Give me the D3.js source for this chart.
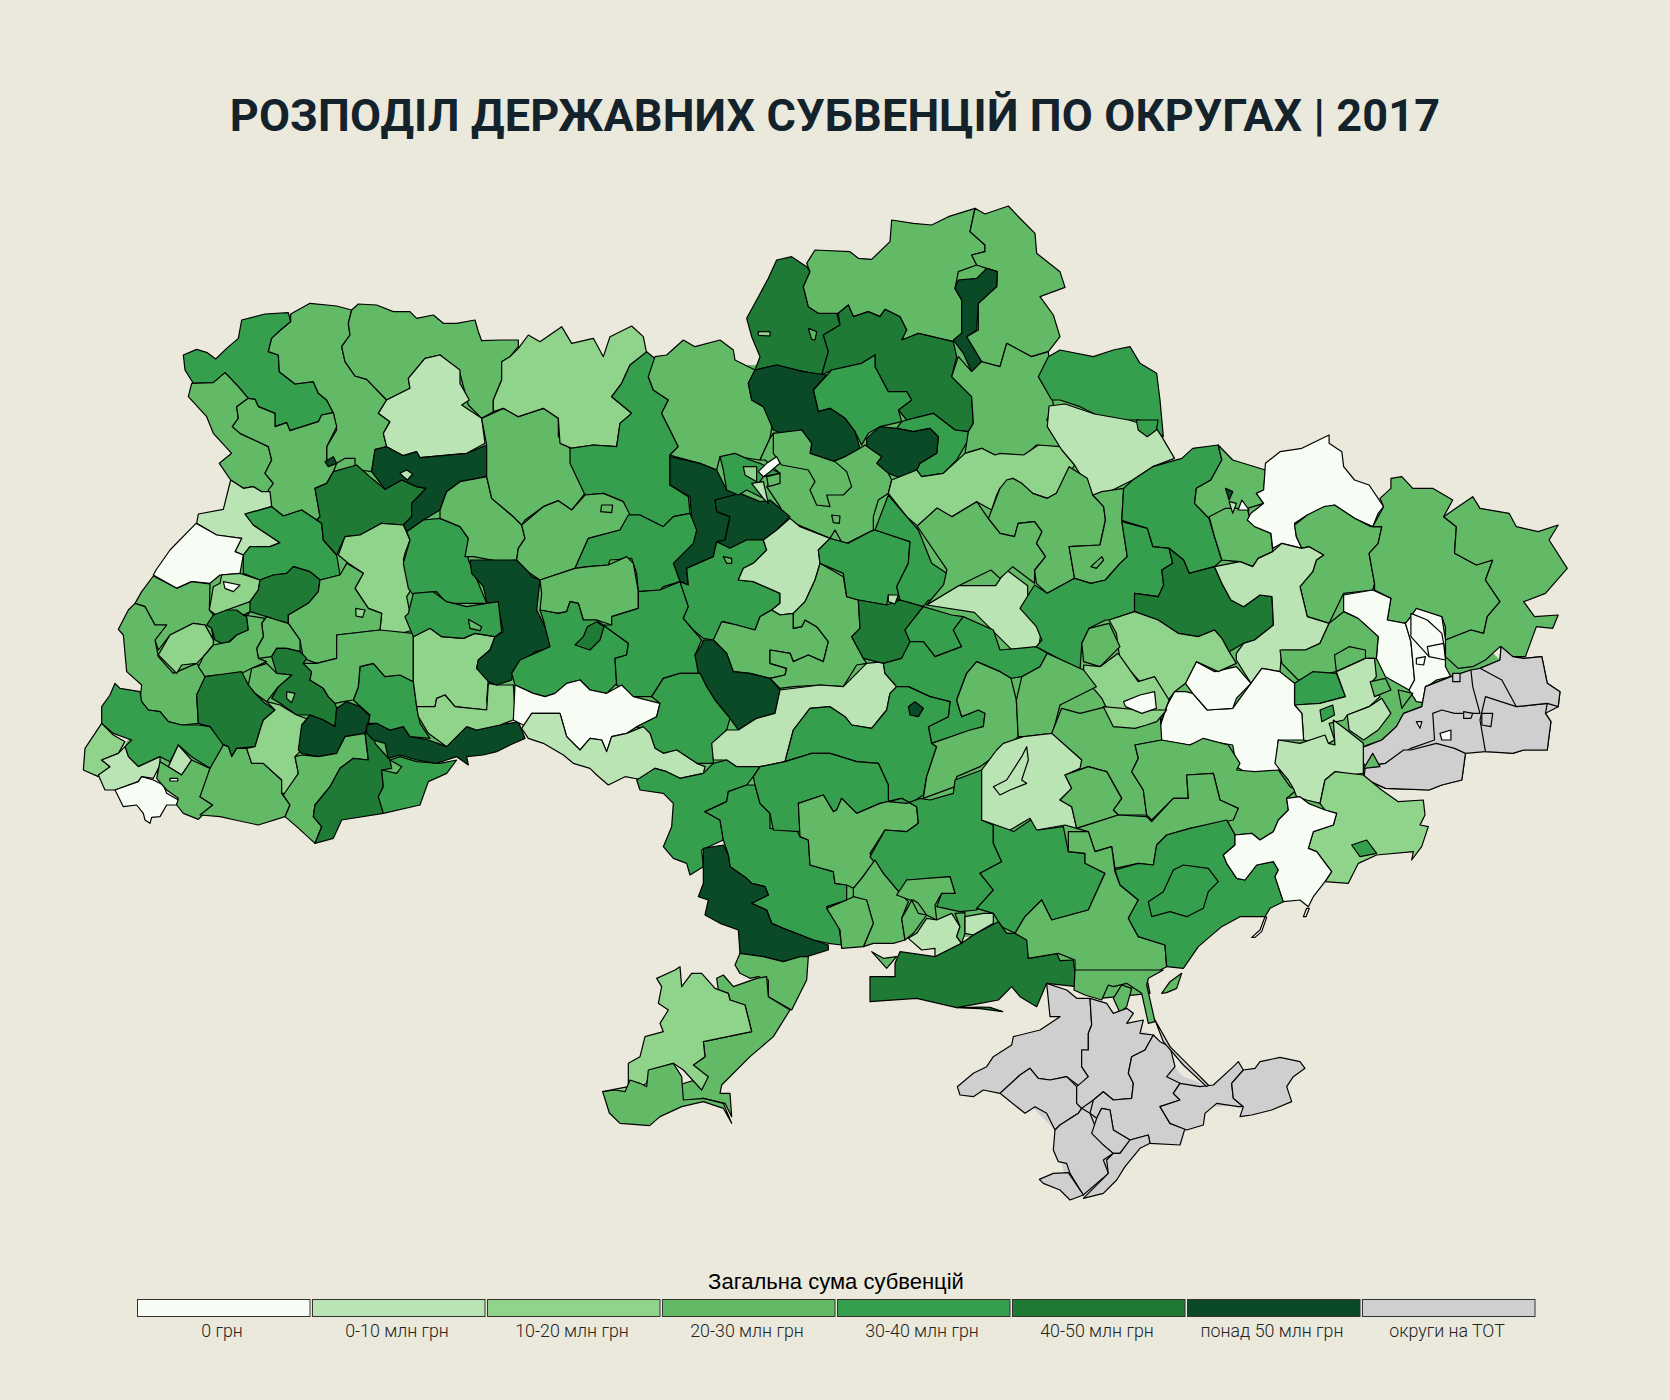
<!DOCTYPE html>
<html>
<head>
<meta charset="utf-8">
<script src="https://cdn.jsdelivr.net/npm/d3@7"></script>
<style>
html, body { margin: 0; padding: 0; background: #ebe9dc; }
</style>
</head>
<body>
<div id="chart"></div>
<script>
// Legend classes
var legendLabels = ["0 грн", "0-10 млн грн", "10-20 млн грн", "20-30 млн грн", "30-40 млн грн", "40-50 млн грн", "понад 50 млн грн", "округи на ТОТ"];
var legendColors = ["#f7fcf5", "#bae4b3", "#90d38a", "#62b966", "#369f4d", "#1e7a35", "#0a4a27", "#cfcfcf"];

// District outlines were traced by eye from crops of the picture, so each block
// has its own origin and zoom. Every row: class index, then "x,y x,y ..."
var west = [
[4,"340,195 380,178 412,188 437,207 470,175 505,145 515,90 585,72 655,68 662,95 632,120 605,145 595,185 625,195 628,245 675,282 730,275 745,310 770,330 790,368 755,375 745,395 660,422 650,398 615,410 615,370 565,350 555,328 535,325 505,290 465,248 430,278 370,280 345,240"],
[3,"662,72 720,40 800,48 845,60 835,100 840,135 815,170 825,215 855,258 890,268 950,330 925,370 960,395 940,430 950,470 915,480 905,545 870,540 855,525 855,505 825,505 800,520 770,510 770,470 800,420 790,368 770,330 745,310 730,275 675,282 628,245 625,195 595,185 605,145 632,120 662,95"],
[3,"845,60 865,42 920,45 970,65 1020,65 1040,85 1090,75 1120,100 1160,100 1215,90 1225,125 1235,152 1290,150 1345,150 1345,170 1320,200 1295,215 1295,270 1270,330 1270,365 1235,385 1195,345 1170,250 1110,195 1065,205 1015,265 1020,295 950,330 890,268 855,258 825,215 815,170 840,135 835,100"],
[1,"1110,195 1170,240 1170,280 1198,330 1175,345 1235,385 1245,460 1190,490 1050,503 1040,485 1000,497 950,470 940,430 960,395 925,370 950,330 1020,295 1015,265 1065,205"],
[3,"365,280 430,278 465,248 505,290 535,325 500,350 505,385 487,410 510,430 595,470 605,510 585,550 610,580 600,605 575,605 550,590 520,595 482,570 448,520 485,490 430,430 410,380 355,320"],
[3,"535,325 555,328 565,350 615,370 615,410 650,398 660,422 745,395 755,375 790,368 800,410 770,470 770,510 800,520 790,545 770,580 735,595 750,680 740,690 695,660 640,678 605,650 595,600 610,580 585,550 605,510 595,470 510,430 487,410 505,385 500,350"],
[1,"482,570 520,595 550,590 575,605 600,605 605,650 525,672 550,705 630,758 600,770 540,770 520,795 495,785 515,745 440,735 380,700 385,672 460,658"],
[0,"378,700 440,735 515,745 495,785 520,795 510,850 450,855 420,880 365,875 320,895 250,855 258,840 300,780"],
[4,"525,672 605,650 640,678 695,660 740,690 755,700 760,750 800,795 810,855 750,870 720,845 670,830 650,850 610,855 570,870 520,850 520,795 540,770 600,770 630,758 550,705"],
[5,"735,595 770,580 790,545 860,525 905,565 945,598 995,570 1040,590 1068,595 1025,640 1025,680 1000,705 935,700 870,735 825,740 800,795 760,750 755,700 740,690 750,680"],
[6,"915,478 950,470 1000,497 1040,485 1050,503 1190,490 1250,465 1250,560 1170,575 1130,605 1110,660 1060,690 1010,725 1000,705 1025,680 1025,640 1068,595 1040,590 995,570 945,598 905,545"],
[2,"825,740 870,735 935,700 1000,705 1020,750 1005,790 1000,810 1030,890 1010,920 1030,1020 975,1035 930,1020 935,970 895,955 855,895 880,850 835,820 805,795"],
[4,"1010,725 1060,690 1110,685 1170,710 1195,745 1195,810 1215,855 1250,940 1130,940 1100,905 1030,915 1015,895 1000,820 1020,750"],
[3,"1130,605 1170,575 1250,560 1265,625 1330,680 1355,705 1365,745 1345,775 1340,810 1290,815 1210,800 1185,800 1195,745 1170,710 1110,685 1110,660"],
[3,"1235,385 1300,355 1345,380 1420,355 1465,385 1465,440 1500,475 1535,535 1545,610 1505,660 1465,632 1420,650 1365,690 1355,705 1330,680 1265,625 1250,560 1250,465"]
];

var carpath = [
[3,"250,48 320,85 365,65 420,72 418,150 430,165 425,205 430,240 405,195 370,190 300,225 265,270 255,240 290,195 255,195 225,140 195,130 215,95"],
[3,"195,130 225,140 255,195 290,195 255,240 265,290 310,340 380,310 410,350 380,405 385,490 335,495 295,485 270,455 235,450 210,420 215,375 170,335 160,225 145,208 175,150"],
[2,"300,225 370,190 405,195 430,240 430,255 400,290 380,310 335,315 320,340 300,320 265,285 285,250"],
[2,"430,80 450,70 455,45 510,40 570,60 565,90 540,125 470,150 445,170 418,150"],
[5,"430,165 470,150 500,150 520,165 540,155 530,170 535,210 500,225 465,255 435,240 425,205 410,195"],
[5,"570,60 610,45 650,40 670,20 720,35 750,60 745,95 715,130 655,165 655,190 620,180 590,170 540,155 540,125 565,90"],
[3,"750,60 810,45 830,10 880,40 855,85 895,145 935,160 930,210 800,225 800,295 740,310 700,295 690,240 655,190 655,165 715,130 745,95"],
[3,"590,170 620,180 655,190 690,240 690,275 650,265 620,265 605,290 565,295 560,265 580,230 575,190"],
[3,"520,165 585,175 575,190 580,230 560,265 565,295 590,305 545,325 515,340 440,345 405,350 385,320 400,290 430,255 480,245 500,225 535,210 530,170"],
[5,"605,290 620,265 650,265 690,275 710,295 700,310 725,335 720,360 760,385 775,410 795,430 800,445 795,500 760,480 720,465 680,465 630,430 605,415 625,380 665,345 620,340"],
[3,"545,325 590,310 620,340 665,345 625,380 590,425 555,400 535,375"],
[5,"405,350 440,345 515,335 535,375 555,400 585,430 615,450 580,480 570,510 555,560 500,565 485,590 475,560 450,550 420,500 385,490 380,405"],
[4,"135,370 150,385 210,395 215,425 235,450 270,455 295,485 335,495 385,495 420,500 460,555 445,620 420,625 365,590 325,555 300,605 270,590 205,620 175,590 165,560 185,540 130,520 95,490 95,440 120,405"],
[2,"95,490 130,525 165,545 145,580 95,600 120,620 85,650 40,630 45,565"],
[1,"165,560 175,590 205,620 270,590 270,615 250,655 215,650 205,665 135,690 105,690 85,645 120,620 95,600 145,580"],
[0,"135,690 205,665 215,650 250,660 280,675 290,700 325,720 320,735 290,735 270,770 245,772 240,790 225,780 220,760 200,735 160,740 140,700"],
[1,"325,555 365,600 335,645 295,620"],
[3,"270,605 295,620 335,645 365,600 420,625 400,690 390,710 428,735 385,778 340,760 320,735 325,715 290,690 260,655"],
[3,"460,555 475,560 485,590 500,565 530,565 545,610 580,610 635,660 635,700 660,735 645,770 565,795 495,780 450,770 390,765 428,735 390,710 420,625"],
[2,"590,425 630,435 680,465 720,480 695,500 690,575 675,590 685,640 660,700 635,700 635,660 580,610 545,610 530,565 555,560 570,510 580,480 615,450"],
[6,"800,445 830,425 870,440 900,470 885,520 825,530 800,580 745,590 695,580 685,570 695,495 720,465 760,480 795,500"],
[3,"695,585 745,590 800,580 825,530 885,520 895,600 850,595 810,625 780,680 735,735 730,770 755,800 735,850 680,800 645,770 660,735 640,705 685,640 675,590"],
[5,"885,515 915,510 915,550 960,600 965,625 935,630 940,680 925,710 940,760 815,780 790,835 735,850 755,800 730,770 735,735 780,680 810,625 850,595 895,600"],
[4,"960,600 990,590 1040,605 1110,610 1160,600 1130,640 1075,665 1050,735 940,760 925,710 940,680 935,630 980,640 995,620"],
[6,"890,495 920,490 960,510 1000,500 1020,530 1075,540 1130,560 1190,500 1220,510 1290,495 1345,485 1365,535 1320,555 1280,575 1240,585 1190,590 1195,615 1160,590 1130,600 1100,610 1040,600 990,585 955,595 945,550 910,540 890,520"],
[4,"870,320 910,310 945,350 990,345 1030,365 1040,440 1050,490 1080,535 1020,530 1000,500 960,510 920,490 895,490 900,465 850,420 865,380"],
[3,"800,225 930,210 1030,220 1030,365 990,345 945,350 910,310 870,320 865,380 850,420 820,425 795,430 775,410 760,385 720,360 725,335 700,310 740,310 800,295"],
[2,"1030,230 1080,205 1115,230 1180,235 1215,220 1275,230 1260,270 1225,300 1220,325 1255,360 1250,420 1255,450 1200,445 1155,440 1125,405 1100,415 1095,440 1040,440 1030,365"],
[2,"1040,440 1095,440 1100,415 1125,405 1155,440 1250,450 1255,370 1280,375 1330,375 1335,450 1330,480 1290,495 1220,510 1190,500 1130,560 1075,520 1045,470"],
[6,"1200,0 1360,0 1385,50 1410,60 1400,150 1430,210 1445,265 1395,275 1330,330 1325,360 1280,375 1255,365 1220,325 1225,300 1260,270 1275,230 1300,215 1285,140 1250,125 1240,80 1205,40"],
[4,"1015,160 1030,100 1090,95 1130,125 1190,140 1250,130 1285,125 1295,215 1275,230 1215,220 1180,235 1115,230 1080,205 1030,230 1005,170"]
];

var north = [
[2,"-150,470 -125,445 -95,405 -60,425 5,380 35,430 100,415 130,470 150,410 215,378 250,410 260,460 210,495 185,550 155,590 215,640 180,670 170,740 100,735 35,745 0,730 -5,655 -50,625 -125,650 -170,625 -200,635 -200,600 -175,540 -175,485"],
[4,"260,455 290,480 265,530 280,570 325,600 305,640 335,700 355,740 330,765 330,855 385,890 390,940 340,950 310,980 240,945 205,945 190,905 130,880 75,885 30,790 30,745 100,735 170,740 180,670 215,640 155,590 185,550 210,495"],
[3,"285,470 320,465 370,420 405,440 480,420 520,450 525,480 585,510 565,550 575,600 610,620 640,655 630,715 600,780 530,770 480,770 470,810 420,790 345,770 330,765 355,740 335,700 305,640 325,600 280,570 265,530"],
[5,"650,180 695,170 740,200 750,215 730,260 745,320 775,340 830,340 840,375 790,405 805,455 785,525 730,515 650,495 585,510 600,470 575,410 560,355 590,300 625,235"],
[3,"740,190 765,150 870,155 895,175 935,178 990,125 995,60 1060,70 1115,75 1165,50 1245,25 1230,95 1275,135 1275,155 1235,165 1250,195 1195,215 1190,240 1185,265 1205,300 1205,400 1180,425 1075,400 1040,425 1025,410 1040,390 1020,350 975,328 960,350 925,335 880,350 865,315 835,340 775,340 745,320 730,260 750,215"],
[3,"1245,25 1275,42 1345,18 1385,60 1425,100 1430,160 1500,215 1515,262 1440,290 1480,345 1500,410 1465,455 1415,470 1340,430 1320,500 1270,490 1235,450 1220,410 1255,390 1255,310 1310,260 1312,215 1280,205 1250,195 1235,165 1275,155 1275,135 1230,95"],
[5,"790,405 840,375 835,340 865,315 880,350 925,335 960,350 975,328 1020,350 1040,390 1025,420 1075,400 1180,425 1190,470 1175,530 1235,590 1240,670 1225,695 1185,690 1120,640 1040,660 1015,630 1055,600 1040,575 985,575 945,500 945,465 905,490 815,510 785,525 805,455"],
[6,"1250,235 1280,205 1312,215 1310,260 1255,310 1250,390 1220,410 1265,485 1235,515 1210,460 1180,420 1205,400 1205,300 1185,265 1195,240"],
[4,"760,570 815,510 905,490 945,465 945,500 985,575 1040,575 1055,600 1015,630 1025,665 960,680 925,700 905,735 885,695 855,655 810,625 775,635"],
[6,"585,510 650,495 730,515 800,525 760,570 775,635 810,625 855,655 885,695 900,745 855,770 820,785 750,760 755,730 725,690 665,700 640,690 610,620 575,600 565,550"],
[4,"1025,665 1040,660 1120,640 1185,690 1225,695 1225,720 1190,780 1150,820 1085,830 1070,810 1080,790 1130,760 1135,710 1110,685 1060,695 1010,685"],
[6,"920,715 960,680 1010,685 1060,695 1110,685 1135,710 1130,760 1080,790 1070,810 1025,835 985,820 950,790 965,770 920,740"],
[3,"1195,470 1235,515 1265,485 1320,500 1340,430 1415,470 1465,455 1480,620 1460,660 1500,700 1500,745 1430,735 1390,770 1305,765 1265,745 1215,760 1225,695 1240,670 1235,590 1175,530"],
[4,"1435,530 1465,470 1500,450 1600,470 1660,450 1710,440 1740,490 1790,520 1800,600 1810,710 1740,660 1640,660 1560,620 1500,600 1475,600"],
[3,"640,700 665,700 725,690 755,730 750,760 820,785 855,770 900,745 915,735 965,770 950,790 985,820 995,840 985,880 955,900 940,950 940,990 920,1000 850,1035 825,990 810,1015 680,960 660,920 620,860 660,820 615,780 600,780 630,715"],
[3,"825,785 860,815 875,860 850,885 800,885 810,920 770,915 750,870 765,845 745,810 665,795 640,760 640,700 725,690 755,730 750,760"],
[2,"995,840 1070,810 1085,830 1150,820 1215,760 1265,745 1305,765 1320,760 1391,765 1435,735 1500,740 1544,795 1489,880 1462,895 1418,880 1385,850 1358,835 1320,865 1310,885 1295,930 1250,905 1175,950 1130,925 1075,980 1040,950 985,880"],
[6,"330,770 420,790 470,810 500,870 535,885 465,900 470,935 510,950 495,1020 470,1025 460,1070 380,1105 385,1155 360,1145 340,1090 400,1020 390,890 330,855"],
[6,"465,900 540,880 600,905 630,900 690,950 650,990 610,1020 560,1020 510,1045 470,1025 495,1020 510,950 470,935"],
[4,"480,770 525,760 570,780 600,790 660,820 610,830 590,860 610,895 560,870 535,885 500,870 490,810"]
];

var centre = [
[3,"65,-15 130,-70 175,-88 215,-60 255,-105 310,-110 370,-85 390,-45 360,0 265,25 225,115 120,150 90,130 50,90 55,55 75,25"],
[4,"590,0 580,40 520,100 540,155 490,170 480,180 415,185 410,130 395,85 330,90 325,105 265,110 225,115 265,25 360,0 385,-45 420,-45 490,-10 520,-40 570,-50"],
[3,"120,150 225,115 265,110 325,105 380,80 400,100 415,185 415,235 335,260 335,285 290,270 250,270 235,220 210,215 200,245 175,250 120,240 125,190"],
[4,"120,240 175,250 200,245 210,215 235,220 250,270 290,270 310,285 330,300 385,340 380,375 345,385 350,460 320,490 270,480 240,450 200,460 165,490 135,500 100,490 45,465 35,430 60,390 150,350 130,270"],
[4,"415,185 480,180 540,155 565,230 550,265 605,330 585,375 600,430 540,430 490,445 455,500 400,500 350,465 345,385 380,375 385,340 330,300 310,285 335,285 335,260 415,235"],
[4,"650,35 690,55 740,30 790,30 800,60 760,100 730,115 715,150 760,155 840,190 840,220 815,240 780,260 765,300 710,285 670,275 640,330 610,325 580,300 550,265 565,230 540,155 565,165 560,115 640,80"],
[1,"830,0 870,-35 900,-10 990,25 955,60 960,100 945,150 915,215 880,250 840,255 815,240 840,220 840,190 760,155 715,150 730,115 760,100 800,60 790,30"],
[3,"665,275 710,285 765,300 780,260 815,240 840,255 880,250 880,295 905,290 915,270 950,290 985,335 970,395 925,375 880,395 870,370 810,360 810,400 860,415 855,435 810,445 750,430 700,425 680,370 640,330"],
[3,"880,250 915,215 945,150 960,100 1030,140 1040,200 1075,210 1080,295 1055,320 1090,385 1100,400 1070,405 1030,470 960,465 880,470 840,475 810,445 855,435 860,415 810,400 810,360 870,370 880,395 925,375 970,395 985,335 950,290 915,270 905,290 880,295"],
[6,"610,330 640,330 680,370 700,425 750,430 810,445 840,480 825,550 770,565 715,600 690,565 645,510 620,470 595,430 585,375 605,345"],
[0,"45,465 100,490 135,500 165,490 200,460 240,450 270,480 320,490 365,465 400,500 480,520 470,560 410,590 380,610 335,620 320,665 305,630 270,625 240,660 200,620 180,550 95,550 80,590 40,570"],
[4,"455,500 490,445 540,430 600,430 620,470 645,510 690,565 680,600 640,640 640,700 590,700 530,660 490,670 465,655 450,610 410,590 470,560 480,520"],
[1,"95,550 180,550 200,620 240,660 270,625 305,630 320,665 335,620 380,610 430,590 450,610 465,655 490,670 530,660 590,700 615,710 610,730 540,745 500,725 465,715 430,750 375,740 325,765 290,735 270,715 220,700 190,675 130,640 85,625 65,595"],
[1,"840,480 960,465 1030,470 1100,400 1150,395 1155,430 1190,470 1170,490 1160,540 1115,595 1055,585 1035,560 990,530 930,535 880,600 855,695 780,710 710,710 680,690 640,690 635,640 680,600 715,600 770,565 825,550"],
[4,"955,60 960,100 1030,130 1040,200 1075,210 1160,225 1165,195 1200,210 1190,170 1225,100 1230,35 1125,0 1110,5 1045,40 990,25"],
[4,"1165,-105 1220,-40 1255,0 1295,100 1340,130 1330,190 1345,220 1285,210 1270,230 1200,210 1190,170 1225,100 1230,35 1125,0"],
[5,"1075,210 1160,225 1200,210 1270,230 1215,300 1230,335 1225,360 1205,385 1150,400 1090,385 1055,320 1080,295"],
[1,"1280,225 1375,167 1487,167 1519,119 1583,167 1583,247 1625,295 1615,359 1535,359 1423,247"],
[4,"1270,230 1355,255 1390,260 1360,300 1385,350 1305,380 1270,335 1230,335 1215,300"],
[4,"1150,400 1205,385 1230,335 1270,335 1305,380 1385,350 1360,300 1390,260 1480,300 1500,360 1609,350 1642,370 1620,410 1565,440 1533,445 1500,425 1430,395 1400,430 1370,510 1385,560 1435,540 1455,550 1450,590 1295,640 1285,590 1345,560 1350,515 1290,500 1225,470 1190,470 1155,430"],
[4,"1190,470 1225,470 1290,500 1350,515 1345,560 1285,590 1295,640 1310,650 1280,740 1270,795 1225,825 1165,815 1165,765 1135,700 1070,695 990,670 935,670 855,695 880,600 930,535 990,530 1035,560 1055,585 1115,595 1160,540 1170,490"],
[3,"1430,395 1500,425 1533,445 1549,510 1555,620 1510,660 1440,710 1370,740 1365,770 1270,805 1280,740 1310,650 1295,640 1410,600 1450,590 1455,550 1435,540 1385,560 1370,510 1400,430"]
];

var south = [
[4,"-10,30 45,-5 80,5 120,25 190,10 220,-20 260,-30 290,-10 360,-10 340,20 320,45 265,65 260,95 195,125 240,150 250,210 185,240 190,290 150,315 140,280 100,265 70,230 95,170 100,100 70,70 0,60"],
[4,"195,125 260,95 265,65 320,45 345,45 360,100 390,130 390,175 470,180 480,200 505,210 510,285 580,305 585,340 620,345 620,390 560,410 595,460 605,525 565,520 520,510 430,475 395,460 380,420 335,400 385,375 375,350 335,340 320,325 270,290 265,255 250,210 240,150"],
[6,"190,235 250,225 265,255 270,290 320,325 335,340 375,350 385,375 335,400 380,420 395,460 430,475 520,510 565,525 565,540 500,560 470,565 430,575 370,560 300,550 295,480 240,460 195,435 205,390 175,380 190,340 190,290"],
[4,"340,20 360,-10 435,-25 515,-50 570,-50 650,-25 715,-20 745,45 745,95 720,100 650,130 605,85 590,120 580,125 550,75 475,100 480,185 400,180 390,130 360,100 345,45"],
[3,"475,100 550,75 580,125 590,120 605,85 650,130 720,100 785,85 830,110 835,160 800,185 735,180 690,250 705,270 665,325 640,355 620,345 585,340 580,305 510,285 505,210 480,200"],
[4,"745,95 800,100 840,85 870,90 940,70 945,30 1025,0 1025,150 1060,165 1060,220 1085,275 1020,310 1060,360 1010,420 960,425 890,410 905,370 945,370 930,320 860,330 800,330 780,370 730,310 690,260 735,180 800,185 835,160 830,110 785,85"],
[4,"1025,150 1080,160 1120,185 1180,145 1195,180 1270,170 1285,245 1335,250 1335,280 1395,310 1345,420 1235,450 1205,390 1155,440 1125,490 1085,470 1060,430 1010,415 1060,360 1020,310 1085,275 1060,220 1060,165"],
[3,"705,270 730,310 780,370 805,395 785,445 795,510 760,520 700,520 670,530 700,460 680,395 640,385 640,355 665,325"],
[3,"680,390 700,460 670,530 605,535 600,480 560,415 620,390 640,380"],
[3,"800,330 860,325 930,320 945,370 905,370 885,405 890,450 860,435 835,400 820,390 810,390 770,375"],
[3,"815,390 835,430 860,435 820,490 795,510 785,445 805,410"],
[1,"860,445 890,450 935,430 960,470 950,500 965,520 885,560 885,535 845,540 805,505 830,490"],
[3,"945,430 975,428 975,490 965,520 950,500 960,470"],
[1,"975,440 1030,430 1060,430 1060,460 1000,495 975,490"],
[5,"780,545 885,560 965,520 1000,495 1075,455 1100,490 1125,490 1165,510 1165,565 1250,550 1260,572 1300,570 1310,650 1220,640 1190,710 1140,680 1115,650 1075,690 1020,700 950,713 830,685 690,695 690,620 765,620 765,580"],
[3,"695,545 730,565 770,560 740,595"],
[3,"300,550 370,560 430,575 480,560 505,560 500,630 455,720 385,680 385,630 355,620 330,625 300,610 285,585"],
[3,"230,625 250,615 280,650 350,625 380,620 385,680 450,720 400,800 330,860 245,945 240,970 270,970 275,1040 255,1000 190,985 130,995 115,945 200,920 160,885 195,860 190,815 335,785 315,705 270,690 265,670 235,660"],
[2,"50,625 105,600 120,590 125,650 155,610 185,610 225,655 265,670 270,690 315,705 335,785 190,815 195,860 160,885 205,920 185,960 130,900 100,880 30,900 20,940 -30,970 -112,965 -35,950 -35,880 0,860 15,800 70,785 60,760 85,720 55,700 65,650"],
[3,"25,900 100,880 125,920 130,990 190,985 250,1000 275,1060 250,1015 190,995 125,1010 60,1040 29,1067 -60,1060 -92,1029 -112,965 -75,960 -45,965 -30,930 0,940 20,950"],
[5,"950,713 1020,716 1088,725 1050,712 1020,711"]
];

var east = [
[1,"135,-42 179,-48 260,-18 354,0 430,25 445,50 480,115 420,140 365,180 300,215 255,225 205,135 170,90 130,20"],
[4,"375,0 435,0 430,30 405,50 380,30"],
[3,"-32,296 0,205 18,180 35,175 60,190 90,220 130,235 155,220 190,140 240,175 255,225 285,260 290,300 275,375 190,380 205,475 130,520 100,490 95,450 125,410 100,370 115,335 95,305 50,310 40,350 0,340"],
[3,"-228,318 -173,264 -132,290 -64,245 -32,296 0,340 40,350 50,310 95,305 115,335 100,370 125,410 95,450 95,490 35,440 0,475 -25,450 -114,497 -202,555 -155,494 -146,449"],
[3,"190,380 275,375 290,300 285,260 255,225 280,215 340,205 335,300 350,410 330,430 290,480 250,490 205,475"],
[4,"340,205 365,180 420,140 500,115 530,85 600,75 610,120 580,180 540,205 535,250 575,295 590,350 610,420 590,440 520,460 505,420 465,385 420,380 405,325 345,305 335,300"],
[4,"335,305 405,325 420,380 465,385 475,430 445,450 450,495 435,530 370,520 370,575 300,600 290,600 245,625 225,670 220,750 100,680 115,660 100,620 55,565 95,495 130,520 205,475 250,490 290,480 330,430 350,410"],
[5,"465,385 505,420 520,460 590,440 610,490 635,540 670,560 715,525 748,530 752,615 700,660 670,670 630,695 610,655 590,630 545,650 490,640 435,600 370,575 370,520 435,530 450,495 445,450 475,430"],
[3,"600,75 640,120 730,150 725,210 705,220 725,250 680,265 690,310 700,325 745,340 750,395 710,415 695,440 660,425 610,420 590,350 575,295 535,250 540,205 580,180 610,120"],
[3,"575,290 620,265 680,265 690,310 745,340 750,395 710,415 695,440 660,425 610,420 590,350"],
[0,"730,130 770,95 830,85 905,45 905,70 940,95 945,140 975,180 1015,195 1055,260 1040,280 1025,320 975,295 920,255 890,270 845,285 810,310 815,350 830,385 775,370 750,385 745,340 700,320 680,300 690,280 725,250 705,220 725,210"],
[3,"810,315 845,285 890,260 920,255 975,295 1020,320 1050,320 1040,370 1015,400 1030,490 1025,510 945,520 905,610 845,590 835,545 825,500 860,455 870,420 890,405 850,380 830,385 815,350"],
[1,"590,440 660,425 695,440 710,415 750,395 775,370 830,385 850,380 890,405 870,420 860,455 825,500 835,545 845,590 905,610 880,670 840,690 775,690 770,755 720,745 690,790 650,720 650,700 670,670 700,660 752,615 748,530 715,525 670,560 635,540 610,490"],
[3,"1045,235 1075,205 1075,175 1105,170 1135,205 1190,205 1245,240 1220,290 1255,320 1250,400 1310,435 1355,420 1335,480 1375,545 1340,590 1330,640 1295,630 1225,660 1225,620 1215,590 1130,590 1115,610 1065,600 1075,535 1030,510 1030,490 1015,400 1040,370 1050,320 1025,320 1055,260"],
[3,"1220,290 1300,230 1320,265 1400,280 1420,320 1480,335 1535,315 1510,360 1560,445 1500,520 1440,545 1470,590 1535,585 1520,625 1475,620 1445,710 1410,710 1375,680 1335,720 1300,740 1260,745 1225,710 1225,660 1295,630 1330,640 1340,590 1375,545 1335,480 1355,420 1310,435 1250,400 1255,320"],
[0,"945,525 1025,510 1075,535 1065,600 1115,610 1130,665 1140,780 1125,810 1060,770 1035,715 1040,650 1000,610 975,590 945,575"],
[0,"1115,610 1130,590 1145,565 1215,590 1225,660 1225,740 1240,770 1200,780 1175,800 1180,850 1145,845 1125,810 1140,780 1130,665"],
[3,"770,690 840,690 880,670 905,610 945,575 985,595 1040,650 1035,715 1005,715 925,755 820,780 775,730"],
[3,"920,705 960,680 1005,690 1005,715 925,755"],
[4,"810,790 860,755 925,760 950,830 880,850 810,855"],
[1,"810,855 880,850 950,830 925,755 1005,715 1030,715 1035,770 1020,790 1045,830 1015,860 955,885 945,900 905,910 920,960 895,975 835,960 830,880"],
[1,"955,885 1015,860 1050,835 1075,880 1040,930 1000,960 960,930"],
[0,"440,920 460,855 480,815 510,815 530,820 570,870 640,865 690,790 720,745 770,755 810,790 810,855 830,880 835,960 765,960 760,1020 770,1055 680,1060 650,1040 640,975 560,960 520,975 440,960"],
[0,"510,790 540,725 590,755 650,740 690,790 650,835 640,865 570,870 530,820"],
[2,"300,600 370,575 435,600 490,640 545,650 590,630 610,655 630,695 650,730 600,755 540,725 510,790 480,815 460,845 425,775 385,785 330,720 320,640"],
[3,"245,625 300,610 330,680 275,740 230,725 225,670"],
[2,"230,735 275,740 325,700 380,785 425,770 465,840 440,910 400,890 355,910 315,915 280,835 230,770"],
[3,"45,840 60,770 110,740 130,700 230,750 265,800 165,855 145,940 70,950 50,950"],
[7,"1180,795 1240,770 1295,750 1320,745 1375,720 1378,680 1410,710 1440,715 1490,710 1505,790 1540,815 1535,860 1500,880 1515,905 1505,990 1440,990 1410,1000 1370,995 1335,995 1280,1000 1270,1080 1215,1095 1180,1110 1060,1105 1000,1075 1000,1045 1050,1040 1000,1000 980,990 1010,975 1050,960 1090,920 1110,880 1160,860 1170,800"],
[7,"1335,830 1420,860 1505,850 1500,880 1515,905 1505,990 1440,990 1410,1000 1335,995 1320,900"],
[7,"1320,745 1375,720 1378,680 1410,710 1440,715 1490,710 1505,790 1540,815 1535,860 1505,850 1420,860 1380,780"],
[7,"1110,880 1160,860 1170,800 1240,770 1295,750 1300,800 1320,880 1250,880 1215,870 1190,880 1195,960 1130,985 1060,1030 1005,1040 980,990 1050,960 1090,920"],
[7,"1060,1105 1000,1075 1005,1040 1060,1030 1110,990 1130,990 1200,970 1250,985 1280,1000 1270,1080 1215,1095 1180,1110"]
];

var azov = [
[3,"155,100 185,25 240,40 320,20 345,80 435,75 480,30 485,120 405,135 415,175 395,215 430,270 440,345 355,345 340,330 365,295 320,215 265,200 195,225 245,180"],
[2,"310,20 420,30 500,30 470,65 440,75 405,85 340,80"],
[1,"-55,360 -55,210 -10,150 10,130 70,110 155,100 245,180 240,205 195,225 215,265 180,300 215,320 230,385 195,375 110,390 90,355 30,390"],
[1,"-20,260 20,240 65,170 80,140 85,180 65,240 80,250 30,270 0,285"],
[3,"195,225 265,200 300,210 320,215 365,295 340,330 355,345 230,385 215,320 180,300 215,265"],
[3,"405,135 485,120 570,135 610,115 685,135 720,190 710,210 765,215 835,210 870,260 890,270 860,295 865,330 835,360 820,395 780,420 755,400 705,405 680,360 715,325 660,300 640,220 560,225 565,295 520,295 455,360 440,345 430,270 395,215 415,175"],
[3,"230,385 355,345 440,350 455,365 520,295 565,295 560,225 640,220 660,300 715,325 700,360 600,380 570,385 500,405 470,435 460,495 415,490 345,505 335,440 285,455 265,395"],
[3,"205,395 265,395 285,455 335,440 345,515 360,555 415,600 385,655 415,710 495,735 500,800 440,830 450,880 300,895 225,860 225,780 175,760 85,775 80,720 45,700 75,650 125,600 155,660 265,630 315,520 255,490 255,460 205,455"],
[4,"345,510 415,490 460,495 470,435 500,405 570,385 680,360 705,405 705,435 670,465 680,490 710,535 735,540 770,495 820,485 835,510 825,530 850,605 810,625 795,650 720,650 665,680 595,740 550,805 500,800 495,735 415,710 385,655 415,600 360,555"],
[4,"445,605 490,575 520,510 550,495 625,505 655,545 625,575 610,625 560,650 510,635 455,650"],
[1,"835,120 900,130 975,105 985,130 1005,135 1000,60 1040,90 1090,130 1090,220 1050,225 1005,215 975,240 960,310 920,300 890,290 880,265 865,240 840,210 825,190"],
[2,"975,240 1005,215 1090,225 1145,270 1195,305 1270,300 1275,345 1260,375 1285,380 1265,440 1235,480 1240,455 1130,465 1075,490 1045,550 975,545 995,515 950,455 925,445 940,395 1000,375 1010,340 975,330 960,310"],
[4,"1055,435 1100,420 1130,460 1080,470"],
[0,"705,405 755,400 780,420 820,395 835,360 865,330 860,295 900,290 925,310 975,330 1010,340 1000,375 940,395 925,445 950,455 995,515 975,545 940,590 925,620 900,600 850,605 825,530 835,510 820,485 770,495 735,540 710,535 680,490 670,465 705,435"],
[0,"910,650 920,625 928,625 918,650"],
[0,"755,712 780,690 795,650 800,652 785,695 765,712"],
[3,"485,880 510,845 545,820 530,865 500,878"]
];

var crimea = [
[3,"375,0 640,0 595,25 590,45 615,155 595,160 575,70 530,40 490,50 475,45 455,90 405,75 372,60"],
[3,"490,85 515,45 545,55 530,110 510,128"],
[7,"290,40 350,60 380,85 420,85 425,165 415,190 415,240 395,240 395,290 415,320 390,350 350,320 300,330 265,325 240,295 210,315 150,370 100,360 70,380 30,375 22,350 70,310 110,290 130,260 185,225 190,200 270,180 330,140 300,140"],
[7,"150,370 210,315 240,295 265,325 300,330 350,320 380,350 380,400 395,415 385,430 330,465 315,480 290,430 255,410 225,430"],
[7,"420,85 470,100 490,130 530,115 550,130 530,160 580,150 570,190 610,195 585,240 545,260 535,310 550,340 545,385 490,390 460,365 430,390 395,415 380,400 380,350 415,320 395,290 395,240 415,240 415,190 425,165"],
[7,"610,195 630,215 660,230 675,290 650,320 690,340 670,370 690,390 630,410 660,460 705,475 690,525 600,520 595,495 540,510 490,480 480,420 455,415 440,445 420,430 430,390 460,365 490,390 545,385 550,340 535,310 545,260 585,240"],
[7,"690,340 750,350 790,345 850,290 865,275 880,300 845,340 850,385 880,410 865,410 800,400 765,430 760,465 710,480 660,460 630,410 690,390 670,370"],
[7,"880,300 915,295 930,275 990,262 1050,275 1065,295 1030,320 1010,350 1025,395 965,420 905,435 870,440 880,410 850,385 845,340"],
[7,"395,415 420,430 440,480 455,520 490,550 460,570 475,610 400,675 360,610 350,580 325,575 310,540 315,480 330,465 385,430"],
[7,"455,415 480,420 490,480 540,510 510,550 490,550 455,520 425,490 440,445"],
[7,"470,570 490,550 510,550 540,510 595,495 600,520 570,535 525,590 500,630 460,670 400,685 475,610"],
[7,"268,628 310,610 355,608 400,675 360,690 330,660 280,640"],
[7,"615,150 660,230 720,290 775,345 770,350 700,285 640,215"]
];

// Small enclaves that sit on top of the bigger districts
var enclaves = [
{ sheet: "north", rows: [
[2,"595,395 630,395 630,408 595,406"],
[3,"745,385 770,395 765,420 755,418"],
[3,"815,945 840,948 838,970 820,968"],
[1,"575,850 610,845 625,910 610,895"],
[0,"620,790 650,770 660,790 630,815 610,830 595,815"],
[2,"550,800 590,800 590,845 555,825"],
[3,"620,830 660,820 660,850 625,860"],
[3,"125,915 158,915 155,938 122,935"]
]},
{ sheet: "west", rows: [
[1,"990,550 1010,540 1028,552 1012,570"],
[6,"765,515 790,500 800,520 775,530"]
]},
{ sheet: "carpath", rows: [
[2,"857,145 885,150 878,172 858,168"],
[3,"1195,178 1235,200 1230,212 1200,205"],
[0,"300,655 323,655 323,663 300,663"],
[0,"460,65 510,75 490,95 465,85"],
[2,"650,395 675,400 665,428 650,415"]
]},
{ sheet: "centre", rows: [
[5,"262,290 290,275 312,290 300,330 270,360 225,345 250,320"],
[1,"1165,195 1195,195 1185,222 1165,215"],
[6,"1225,530 1245,515 1270,535 1255,560 1230,555"],
[3,"670,80 695,85 695,100 680,100"]
]},
{ sheet: "east", rows: [
[6,"620,205 640,215 630,240"],
[1,"630,245 650,250 640,280"],
[0,"665,240 685,270 655,270"],
[3,"250,440 280,410 285,420 265,445"],
[0,"340,845 385,825 425,815 430,865 390,880 345,860"],
[4,"880,870 915,855 920,885 885,905"],
[3,"1018,785 1060,775 1075,810 1030,830"],
[3,"1095,810 1135,820 1105,865"],
[3,"1025,1000 1045,1040 1000,1045"],
[0,"1210,940 1240,930 1240,960 1215,960"],
[0,"1130,580 1175,600 1215,640 1225,700 1180,710 1130,650"],
[0,"1145,715 1170,710 1165,735 1145,732"],
[0,"1175,680 1220,670 1225,720 1180,710"],
[7,"1275,875 1300,880 1295,895 1275,895"],
[7,"1325,880 1355,880 1350,920 1325,915"],
[7,"1245,760 1265,760 1265,785 1245,785"],
[0,"1145,905 1160,905 1155,925"]
]}
];

// Rough inner silhouettes drawn first, so slits between traced districts do not show the page colour
var underlay = [
[3,"250,380 280,345 351,330 500,365 639,365 756,365 830,300 900,290 1012,224 1020,300 1020,365 1145,373 1145,410 1156,460 1204,480 1257,500 1321,490 1374,510 1433,530 1500,560 1490,600 1490,650 1520,680 1500,730 1400,745 1340,760 1370,820 1370,830 1320,860 1260,870 1156,940 1065,964 980,937 831,937 809,943 740,900 720,830 690,780 540,715 470,725 420,770 340,810 230,810 175,790 125,745 150,700 150,640 235,530 260,500 260,430"],
[7,"990,1076 1065,1038 1097,1022 1150,1033 1182,1076 1225,1092 1268,1065 1294,1071 1283,1102 1204,1108 1145,1140 1108,1172 1087,1188 1065,1177 1054,1129 1022,1097"]
];

var width = 1670;
var height = 1400;

var color = d3.scaleOrdinal().domain(d3.range(legendLabels.length)).range(legendColors);

var svg = d3.select("#chart").append("svg")
	.attr("width", width)
	.attr("height", height)
	.style("display", "block")
	.style("background", "#ebe9dc");

// Title
svg.append("text")
	.attr("x", 835)
	.attr("y", 131)
	.attr("text-anchor", "middle")
	.attr("font-family", "Roboto")
	.attr("font-weight", 700)
	.attr("font-size", 45)
	.attr("letter-spacing", 0.14)
	.attr("fill", "#14232b")
	.text("РОЗПОДІЛ ДЕРЖАВНИХ СУБВЕНЦІЙ ПО ОКРУГАХ | 2017");

// Each traced block gets a scale pair from its own pixels to the page
var sheets = {
	page: { x0: 0, y0: 0, kx: 1, ky: 1, rows: underlay },
	west: { x0: 70, y0: 290, kx: 3, ky: 3, rows: west },
	carpath: { x0: 70, y0: 560, kx: 3, ky: 3, rows: carpath },
	north: { x0: 560, y0: 200, kx: 3, ky: 3, rows: north },
	centre: { x0: 500, y0: 530, kx: 3, ky: 3, rows: centre },
	south: { x0: 640, y0: 770, kx: 3, ky: 3, rows: south },
	east: { x0: 1000, y0: 420, kx: 2.75, ky: 3, rows: east },
	azov: { x0: 1000, y0: 700, kx: 3, ky: 3, rows: azov },
	crimea: { x0: 950, y0: 970, kx: 3, ky: 3, rows: crimea }
};

function toFeatures(rows, sheet) {
	var sx = d3.scaleLinear().domain([0, 300]).range([sheet.x0, sheet.x0 + 300 / sheet.kx]);
	var sy = d3.scaleLinear().domain([0, 300]).range([sheet.y0, sheet.y0 + 300 / sheet.ky]);
	return rows.map(function(row) {
		var ring = row[1].split(" ").map(function(p) {
			var xy = p.split(",");
			return [sx(+xy[0]), sy(+xy[1])];
		});
		ring.push(ring[0]);
		return { type: "Feature", properties: { cls: row[0] }, geometry: { type: "Polygon", coordinates: [ring] } };
	});
}

var features = [];
["west", "carpath", "north", "centre", "south", "east", "azov", "crimea"].forEach(function(name) {
	features = features.concat(toFeatures(sheets[name].rows, sheets[name]));
});
enclaves.forEach(function(group) {
	features = features.concat(toFeatures(group.rows, sheets[group.sheet]));
});

var path = d3.geoPath(d3.geoIdentity());

svg.append("g").selectAll("path")
	.data(toFeatures(underlay, sheets.page))
	.enter()
	.append("path")
	.attr("d", path)
	.attr("fill", function(d) { return color(d.properties.cls); });

svg.append("g").selectAll("path")
	.data(features)
	.enter()
	.append("path")
	.attr("d", path)
	.attr("fill", function(d) { return color(d.properties.cls); })
	.attr("stroke", "#000")
	.attr("stroke-width", 1.2)
	.attr("stroke-linejoin", "round");

// Legend
var legendX = d3.scaleBand().domain(legendLabels).range([137.5, 1537.5]);

svg.append("text")
	.attr("x", 836)
	.attr("y", 1281)
	.attr("dy", "0.35em")
	.attr("text-anchor", "middle")
	.attr("font-family", "Liberation Sans")
	.attr("font-size", 22)
	.attr("fill", "#000")
	.text("Загальна сума субвенцій");

var legend = svg.append("g").selectAll("g")
	.data(legendLabels)
	.enter()
	.append("g");

legend.append("rect")
	.attr("x", function(d) { return legendX(d); })
	.attr("y", 1299.5)
	.attr("width", 172.5)
	.attr("height", 17)
	.attr("fill", function(d, i) { return legendColors[i]; })
	.attr("stroke", "#333")
	.attr("stroke-width", 1);

legend.append("text")
	.attr("x", function(d) { return legendX(d) + 84.5; })
	.attr("y", 1331)
	.attr("dy", "0.35em")
	.attr("text-anchor", "middle")
	.attr("font-family", "Roboto")
	.attr("font-weight", 300)
	.attr("font-size", 17.8)
	.attr("fill", "#222")
	.text(function(d) { return d; });
</script>
</body>
</html>
